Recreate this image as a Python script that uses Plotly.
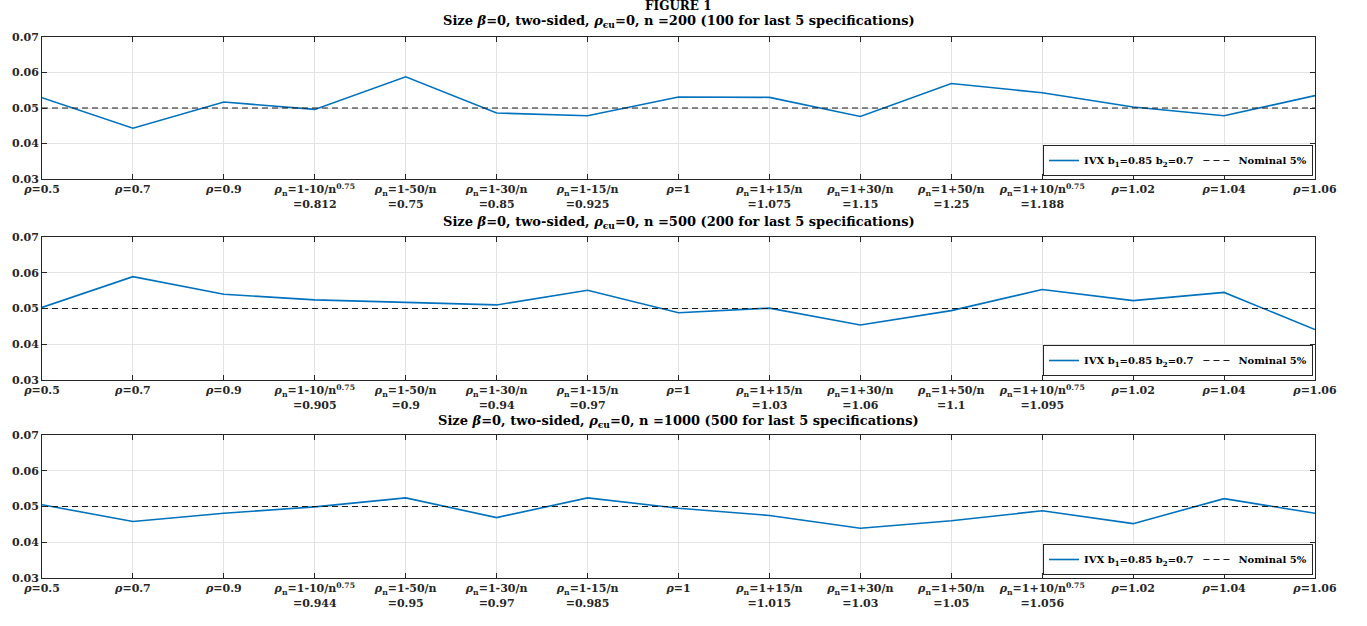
import plotly.graph_objects as go

# ---------------- data ----------------
spec_positions = list(range(15))

tick_labels_200 = [
    "<i>ρ</i>=0.5", "<i>ρ</i>=0.7", "<i>ρ</i>=0.9",
    "<i>ρ</i><sub>n</sub>=1-10/n<sup>0.75</sup><br>=0.812",
    "<i>ρ</i><sub>n</sub>=1-50/n<br>=0.75",
    "<i>ρ</i><sub>n</sub>=1-30/n<br>=0.85",
    "<i>ρ</i><sub>n</sub>=1-15/n<br>=0.925",
    "<i>ρ</i>=1",
    "<i>ρ</i><sub>n</sub>=1+15/n<br>=1.075",
    "<i>ρ</i><sub>n</sub>=1+30/n<br>=1.15",
    "<i>ρ</i><sub>n</sub>=1+50/n<br>=1.25",
    "<i>ρ</i><sub>n</sub>=1+10/n<sup>0.75</sup><br>=1.188",
    "<i>ρ</i>=1.02", "<i>ρ</i>=1.04", "<i>ρ</i>=1.06",
]
tick_labels_500 = [
    "<i>ρ</i>=0.5", "<i>ρ</i>=0.7", "<i>ρ</i>=0.9",
    "<i>ρ</i><sub>n</sub>=1-10/n<sup>0.75</sup><br>=0.905",
    "<i>ρ</i><sub>n</sub>=1-50/n<br>=0.9",
    "<i>ρ</i><sub>n</sub>=1-30/n<br>=0.94",
    "<i>ρ</i><sub>n</sub>=1-15/n<br>=0.97",
    "<i>ρ</i>=1",
    "<i>ρ</i><sub>n</sub>=1+15/n<br>=1.03",
    "<i>ρ</i><sub>n</sub>=1+30/n<br>=1.06",
    "<i>ρ</i><sub>n</sub>=1+50/n<br>=1.1",
    "<i>ρ</i><sub>n</sub>=1+10/n<sup>0.75</sup><br>=1.095",
    "<i>ρ</i>=1.02", "<i>ρ</i>=1.04", "<i>ρ</i>=1.06",
]
tick_labels_1000 = [
    "<i>ρ</i>=0.5", "<i>ρ</i>=0.7", "<i>ρ</i>=0.9",
    "<i>ρ</i><sub>n</sub>=1-10/n<sup>0.75</sup><br>=0.944",
    "<i>ρ</i><sub>n</sub>=1-50/n<br>=0.95",
    "<i>ρ</i><sub>n</sub>=1-30/n<br>=0.97",
    "<i>ρ</i><sub>n</sub>=1-15/n<br>=0.985",
    "<i>ρ</i>=1",
    "<i>ρ</i><sub>n</sub>=1+15/n<br>=1.015",
    "<i>ρ</i><sub>n</sub>=1+30/n<br>=1.03",
    "<i>ρ</i><sub>n</sub>=1+50/n<br>=1.05",
    "<i>ρ</i><sub>n</sub>=1+10/n<sup>0.75</sup><br>=1.056",
    "<i>ρ</i>=1.02", "<i>ρ</i>=1.04", "<i>ρ</i>=1.06",
]

size_n200 = [0.0529, 0.0443, 0.0517, 0.0496, 0.0588, 0.0486, 0.0478, 0.0531,
             0.0530, 0.0476, 0.0569, 0.0543, 0.0503, 0.0478, 0.0535]
size_n500 = [0.0503, 0.0589, 0.0540, 0.0524, 0.0517, 0.0510, 0.0551, 0.0488,
             0.0501, 0.0454, 0.0494, 0.0553, 0.0522, 0.0545, 0.0441]
size_n1000 = [0.0505, 0.0458, 0.0481, 0.0499, 0.0524, 0.0469, 0.0524, 0.0495,
              0.0475, 0.0439, 0.0460, 0.0488, 0.0452, 0.0522, 0.0481]
nominal = [0.05] * 15

panel_titles = [
    "Size <i>β</i>=0, two-sided, <i>ρ</i><sub>ϵu</sub>=0, n =200 (100 for last 5 specifications)",
    "Size <i>β</i>=0, two-sided, <i>ρ</i><sub>ϵu</sub>=0, n =500 (200 for last 5 specifications)",
    "Size <i>β</i>=0, two-sided, <i>ρ</i><sub>ϵu</sub>=0, n =1000 (500 for last 5 specifications)",
]
series_name = "IVX b<sub>1</sub>=0.85 b<sub>2</sub>=0.7"
nominal_name = "Nominal 5%"

# ---------------- layout geometry ----------------
W, H = 1367, 626
ML, MR, MT, MB = 42, 52, 37, 48
PH = H - MT - MB


def py2paper(py):
    return (H - MB - py) / PH


panels = [
    dict(vals=size_n200, ticks=tick_labels_200, top=37, bot=179, title_y=21, leg_bot=176),
    dict(vals=size_n500, ticks=tick_labels_500, top=237, bot=380, title_y=222, leg_bot=376),
    dict(vals=size_n1000, ticks=tick_labels_1000, top=435, bot=578, title_y=421, leg_bot=575),
]

FONT = "DejaVu Serif"
BLUE = "#0072BD"
AXC = "#262626"

fig = go.Figure()
layout = dict(
    width=W, height=H,
    margin=dict(l=ML, r=MR, t=MT, b=MB),
    paper_bgcolor="white", plot_bgcolor="white",
    font=dict(family=FONT, size=10, color="black"),
    annotations=[],
)

for i, p in enumerate(panels):
    sfx = "" if i == 0 else str(i + 1)
    xa, ya = "x" + sfx, "y" + sfx
    leg = "legend" + sfx
    fig.add_trace(go.Scatter(
        x=spec_positions, y=p["vals"], mode="lines", name=series_name,
        line=dict(color=BLUE, width=1.6), xaxis=xa, yaxis=ya, legend=leg,
    ))
    fig.add_trace(go.Scatter(
        x=spec_positions, y=nominal, mode="lines", name=nominal_name,
        line=dict(color="#1a1a1a", width=1, dash="6px,4px"), xaxis=xa, yaxis=ya, legend=leg,
    ))
    dom = [py2paper(p["bot"]), py2paper(p["top"])]
    layout["xaxis" + sfx] = dict(
        domain=[0, 1], anchor=ya, range=[0, 14],
        tickvals=spec_positions, ticktext=p["ticks"],
        tickfont=dict(family=FONT, size=11, color="#262626", weight="bold"),
        showgrid=True, gridcolor="#e3e3e3", gridwidth=1,
        showline=True, linecolor=AXC, linewidth=1, mirror="ticks",
        ticks="inside", ticklen=5, tickcolor=AXC, zeroline=False,
        tickangle=0,
    )
    layout["yaxis" + sfx] = dict(
        domain=dom, anchor=xa, range=[0.03, 0.07],
        tickvals=[0.03, 0.04, 0.05, 0.06, 0.07], tickformat=".2f",
        tickfont=dict(family=FONT, size=11, color="#262626", weight="bold"),
        showgrid=True, gridcolor="#e3e3e3", gridwidth=1,
        showline=True, linecolor=AXC, linewidth=1, mirror="ticks",
        ticks="inside", ticklen=5, tickcolor=AXC, zeroline=False,
    )
    layout[leg] = dict(
        orientation="h", xref="paper", yref="paper",
        x=(1313 - ML) / (W - ML - MR), xanchor="right",
        y=py2paper(p["leg_bot"]), yanchor="bottom",
        bgcolor="white", bordercolor=AXC, borderwidth=1,
        font=dict(family=FONT, size=10, color="black", weight="bold"),
        itemwidth=30, tracegroupgap=0,
    )
    layout["annotations"].append(dict(
        text="<b>" + panel_titles[i] + "</b>", xref="paper", yref="paper",
        x=0.5, y=py2paper(p["title_y"]), xanchor="center", yanchor="middle",
        showarrow=False, font=dict(family=FONT, size=13, color="black"),
    ))

layout["annotations"].append(dict(
    text="<b>FIGURE 1</b>", xref="paper", yref="paper",
    x=0.5, y=py2paper(6), xanchor="center", yanchor="middle",
    showarrow=False, font=dict(family=FONT, size=12, color="black"),
))
layout["showlegend"] = True

fig.update_layout(**layout)
fig.write_html("out.html")
